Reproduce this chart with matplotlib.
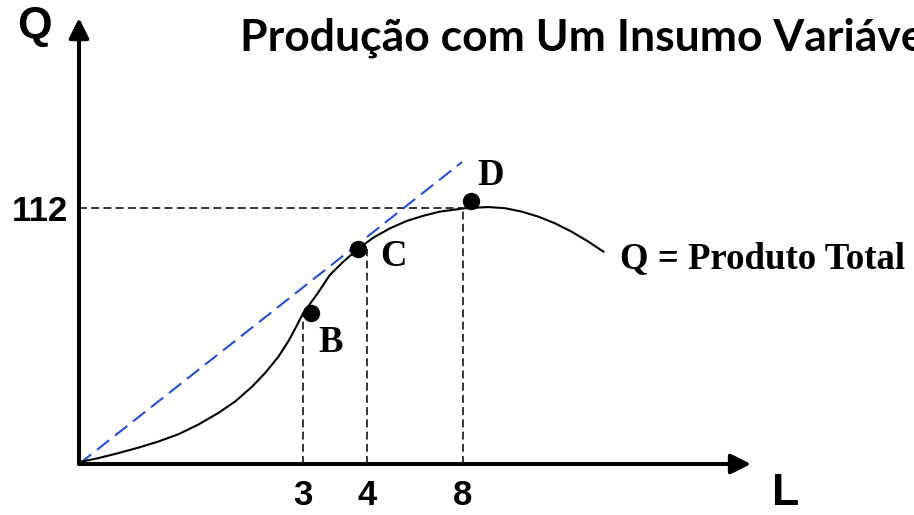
import matplotlib
matplotlib.use('Agg')
import matplotlib.pyplot as plt
import numpy as np

# curva do produto total
L_curve = [0, 0.03, 0.25, 0.52, 0.79, 1.06, 1.33, 1.59, 1.86, 2.09, 2.31,
           2.49, 2.67, 2.80, 2.91, 3.0, 3.21, 3.42, 3.63, 3.86, 4.26, 4.96,
           5.65, 6.35, 7.04, 7.74, 8.08, 9.05, 9.75, 10.45, 11.14, 11.83,
           12.53, 13.22, 13.85]
Q_curve = [0, 1.0, 2.5, 4.7, 7.1, 9.8, 13.0, 17.1, 22.2, 27.3, 33.6,
           39.7, 46.9, 53.5, 60.1, 65.9, 73.9, 82.7, 88.5, 94.1, 99.0, 103.1,
           106.3, 108.6, 110.4, 111.4, 111.9, 112.4, 111.9, 110.4, 108.2, 105.3,
           101.6, 97.3, 92.9]

# pontos B, C, D
pt_names = ['B', 'C', 'D']
pt_L = [3.13, 3.86, 8.33]
pt_Q = [66.1, 94.1, 115.1]

# linhas de referencia
ref_L = [3, 4, 8]
ref_Q = [66, 94, 112]
tick_labels = ['3', '4', '8']
q_tick = 112

# reta tangente (azul)
tan_L = [0, 7.96]
tan_Q = [0, 132.1]

# eixo L esquematico (nao linear)
knot_L = [0, 3, 4, 8, 20]
knot_pos = [0, 224, 288, 384, 672]


def fwd(x):
    return np.interp(x, knot_L, knot_pos)


def inv(x):
    return np.interp(x, knot_pos, knot_L)


W, H = 914, 515
fig = plt.figure(figsize=(W / 100, H / 100), dpi=100)
ax = fig.add_axes([79 / W, 51 / H, 672 / W, 446 / H])
ax.set_xscale('function', functions=(fwd, inv))
ax.set_xlim(0, 20)
ax.set_ylim(0, 195.1)
for s in ax.spines.values():
    s.set_visible(False)

# eixos com setas
arr = dict(arrowstyle='-|>', lw=2.9, color='k', mutation_scale=30,
           shrinkA=0, shrinkB=0)
ax.annotate('', xy=(1, 0), xytext=(0, 0), xycoords='axes fraction', arrowprops=arr)
ax.annotate('', xy=(0, 1), xytext=(0, 0), xycoords='axes fraction', arrowprops=arr)

ax.vlines(ref_L, 0, ref_Q, colors='k', lw=1.1, linestyles=(0, (5.2, 2.8)))
ax.hlines(q_tick, 0, ref_L[2], colors='k', lw=1.1, linestyles=(0, (5.2, 2.8)))

ax.plot(tan_L, tan_Q, color='#2050d8', lw=1.5, ls=(0, (7.5, 3.5)), clip_on=False)
ax.plot(L_curve, Q_curve, 'k-', lw=1.5)
ax.plot(pt_L, pt_Q, 'ko', ms=11.5, clip_on=False)

serif = dict(family='Liberation Serif', weight='bold', size=26.5)
offs = [(7, -39), (22, -17), (6, 16)]
for n, x, y, o in zip(pt_names, pt_L, pt_Q, offs):
    ax.annotate(n, (x, y), xytext=o, textcoords='offset pixels',
                ha='left', va='baseline', **serif)
ax.annotate('Q = Produto Total', (L_curve[-1], Q_curve[-1]), xytext=(17, -17),
            textcoords='offset pixels', ha='left', va='baseline', **serif)

ax.set_xticks(ref_L, tick_labels)
ax.set_yticks([q_tick], [str(q_tick)])
ax.tick_params(length=0)
ax.tick_params(axis='x', pad=11)
ax.tick_params(axis='y', pad=8)
for t in ax.get_xticklabels() + ax.get_yticklabels():
    t.set_fontfamily('Liberation Sans')
    t.set_fontweight('bold')
    t.set_fontsize(25)

sans = dict(family='Liberation Sans', weight='bold', size=32)
fig.text(17 / W, 1 - 38 / H, 'Q', ha='left', va='baseline', **sans)
fig.text(772 / W, 1 - 505 / H, 'L', ha='left', va='baseline', **sans)
# o titulo sai pela borda direita, como no original
fig.text(240 / W, 1 - 51 / H, 'Produção com Um Insumo Variável', ha='left',
         va='baseline', family='Lato', weight='bold', size=32)

plt.savefig('out.png', dpi=100)
